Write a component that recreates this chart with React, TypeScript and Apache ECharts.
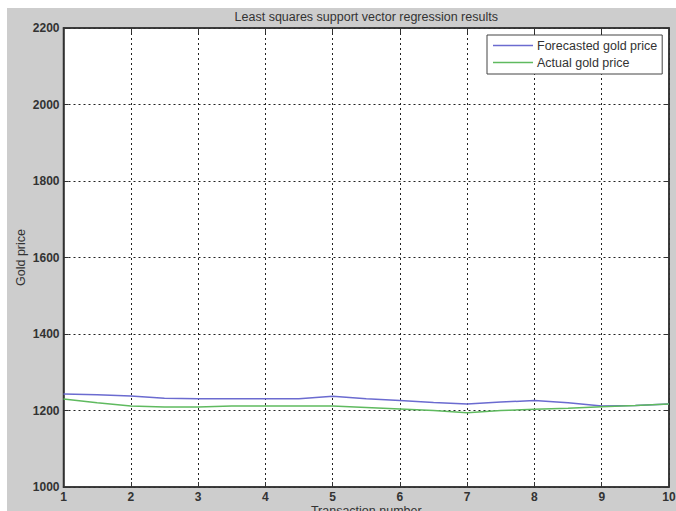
import React, { useEffect, useRef } from "react";
import * as echarts from "echarts";

const transactionNumbers = [1, 1.5, 2, 2.5, 3, 3.5, 4, 4.5, 5, 5.5, 6, 6.5, 7, 7.5, 8, 8.5, 9, 9.5, 10];
const forecastedPrice = [1243, 1241, 1238, 1232, 1231, 1231, 1231, 1231, 1237, 1231, 1226, 1221, 1217, 1222, 1226, 1220, 1212, 1213, 1217];
const actualPrice = [1230, 1220, 1212, 1209, 1209, 1212, 1212, 1212, 1212, 1208, 1204, 1200, 1194, 1200, 1203, 1206, 1210, 1213, 1217];
const seriesNames = ["Forecasted gold price", "Actual gold price"];
const titleText = "Least squares support vector regression results";
const xName = "Transaction number";
const yName = "Gold price";

const FONT = "'Liberation Sans', Arial, sans-serif";
const TEXT = "#333";

export default function App() {
  const ref = useRef<HTMLDivElement>(null);
  useEffect(() => {
    if (!ref.current) return;
    const chart = echarts.init(ref.current, undefined, { renderer: "svg" });
    const gridLeft = 56.5;
    const gridTop = 20;
    const gridWidth = 605.5;
    const gridHeight = 459;
    const split = { show: true, lineStyle: { color: "#222", width: 1, type: [2, 3] as any } };
    const axisLine = { show: true, lineStyle: { color: "#333", width: 1.5 } };
    chart.setOption({
      animation: false,
      backgroundColor: "#cdcdcd",
      textStyle: { fontFamily: FONT },
      title: {
        text: titleText,
        left: gridLeft + gridWidth / 2,
        textAlign: "center",
        top: 2,
        padding: 0,
        textStyle: { fontSize: 12.5, fontWeight: "normal", color: TEXT, fontFamily: FONT },
      },
      legend: {
        show: true,
        orient: "vertical",
        left: 480,
        top: 27,
        padding: [4, 5, 5, 6],
        itemGap: 4,
        itemWidth: 40,
        itemHeight: 1.5,
        icon: "rect",
        backgroundColor: "#fff",
        borderColor: "#444",
        borderWidth: 1,
        textStyle: { fontSize: 12.5, color: TEXT, fontFamily: FONT, padding: [0, 0, 0, -1] },
        data: seriesNames,
      },
      grid: {
        left: gridLeft,
        top: gridTop,
        width: gridWidth,
        height: gridHeight,
        show: true,
        containLabel: false,
        outerBoundsMode: "none",
        backgroundColor: "#fff",
        borderColor: "#333",
        borderWidth: 1.5,
      },
      xAxis: [
        {
          type: "value",
          min: 1,
          max: 10,
          interval: 1,
          name: xName,
          nameLocation: "middle",
          nameGap: 17,
          nameMoveOverlap: false,
          nameTextStyle: { fontSize: 12.5, color: TEXT, fontFamily: FONT },
          axisLine,
          axisTick: { show: true, inside: true, length: 5, lineStyle: { color: "#333" } },
          axisLabel: { fontSize: 12, color: TEXT, fontWeight: "bold", margin: 4, fontFamily: FONT },
          splitLine: split,
        },
        {
          type: "value",
          position: "top",
          min: 1,
          max: 10,
          interval: 1,
          axisLine,
          axisTick: { show: true, inside: true, length: 5, lineStyle: { color: "#333" } },
          axisLabel: { show: false },
          splitLine: { show: false },
        },
      ],
      yAxis: [
        {
          type: "value",
          min: 1000,
          max: 2200,
          interval: 200,
          name: yName,
          nameLocation: "middle",
          nameGap: 36,
          nameMoveOverlap: false,
          nameTextStyle: { fontSize: 12.5, color: TEXT, fontFamily: FONT },
          axisLine,
          axisTick: { show: true, inside: true, length: 5, lineStyle: { color: "#333" } },
          axisLabel: {
            fontSize: 12,
            color: TEXT,
            fontWeight: "bold",
            margin: 4,
            fontFamily: FONT,
            formatter: (v: number) => String(v),
          },
          splitLine: split,
        },
        {
          type: "value",
          position: "right",
          min: 1000,
          max: 2200,
          interval: 200,
          axisLine,
          axisTick: { show: true, inside: true, length: 5, lineStyle: { color: "#333" } },
          axisLabel: { show: false },
          splitLine: { show: false },
        },
      ],
      series: [
        {
          name: seriesNames[0],
          type: "line",
          data: transactionNumbers.map((x, i) => [x, forecastedPrice[i]]),
          showSymbol: false,
          symbol: "none",
          lineStyle: { color: "#6b6bd0", width: 1.5 },
          itemStyle: { color: "#6b6bd0" },
        },
        {
          name: seriesNames[1],
          type: "line",
          data: transactionNumbers.map((x, i) => [x, actualPrice[i]]),
          showSymbol: false,
          symbol: "none",
          lineStyle: { color: "#5fba5f", width: 1.5 },
          itemStyle: { color: "#5fba5f" },
        },
      ],
    });
    return () => chart.dispose();
  }, []);
  return (
    <div
      ref={ref}
      style={{ position: "fixed", left: 7, top: 8, width: 669, height: 503 }}
    />
  );
}
